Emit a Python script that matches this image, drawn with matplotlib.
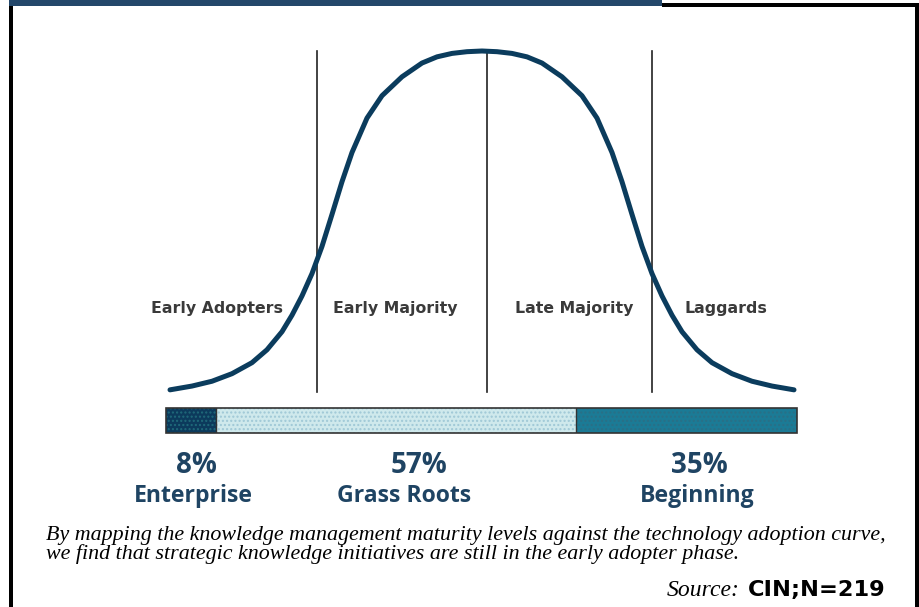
import numpy as np
import matplotlib
matplotlib.use("Agg")
import matplotlib.pyplot as plt
from matplotlib.patches import Rectangle

# ---- data ----
phases = ["Early Adopters", "Early Majority", "Late Majority", "Laggards"]
phase_bounds = [-1.32, 0.04, 1.36]         # boundaries (sd units)
# bell curve: position (sd units) and relative height
curve_x = [-2.496, -2.32, -2.16, -2.0, -1.84, -1.72, -1.6, -1.52, -1.44, -1.36, -1.28,
           -1.2, -1.12, -1.04, -0.92, -0.8, -0.64, -0.48, -0.36, -0.24, -0.12, 0.0,
           0.12, 0.24, 0.36, 0.48, 0.64, 0.8, 0.92, 1.04, 1.12, 1.2,
           1.28, 1.36, 1.44, 1.52, 1.6, 1.72, 1.84, 2.0, 2.16, 2.32, 2.496]
curve_y = [0.015, 0.026, 0.040, 0.062, 0.094, 0.1315, 0.184, 0.232, 0.288, 0.353, 0.432,
           0.525, 0.620, 0.705, 0.805, 0.870, 0.925, 0.965, 0.983, 0.993, 0.998, 1.0,
           0.998, 0.993, 0.983, 0.965, 0.925, 0.870, 0.805, 0.705, 0.620, 0.525,
           0.432, 0.353, 0.288, 0.232, 0.184, 0.1315, 0.094, 0.062, 0.040, 0.026, 0.015]
segments = ["Enterprise", "Grass Roots", "Beginning"]
shares = [8, 57, 35]
share_labels = ["8%", "57%", "35%"]
caption = ("By mapping the knowledge management maturity levels against the technology adoption curve,\n"
           "we find that strategic knowledge initiatives are still in the early adopter phase.")
source_label = "Source:"
source_value = "CIN;N=219"

W, H = 920, 607
fig = plt.figure(figsize=(W / 100, H / 100), dpi=100)
fig.patch.set_facecolor("white")

def fbox(x0, y0, x1, y1):
    """pixel box (top-left origin) -> figure fraction rect"""
    return [x0 / W, 1 - y1 / H, (x1 - x0) / W, (y1 - y0) / H]

# ---- frame ----
fig.add_artist(Rectangle((9 / W, 1 - 6 / H), 653 / W, 6 / H, transform=fig.transFigure,
                         facecolor="#23476a", edgecolor="none"))
fig.add_artist(Rectangle((662 / W, 1 - 7 / H), 257 / W, 4 / H, transform=fig.transFigure,
                         facecolor="black", edgecolor="none"))
fig.add_artist(Rectangle((9 / W, 0), 4 / W, 1 - 6 / H, transform=fig.transFigure,
                         facecolor="black", edgecolor="none"))
fig.add_artist(Rectangle((915 / W, 0), 4 / W, 1 - 3 / H, transform=fig.transFigure,
                         facecolor="black", edgecolor="none"))

# ---- bell curve ----
ax = fig.add_axes(fbox(170, 51, 794, 395))
ax.set_xlim(curve_x[0], curve_x[-1])
ax.set_ylim(0, 1)
ax.axis("off")
ax.plot(curve_x, curve_y, color="#0b3c5d", lw=3.6, solid_capstyle="round",
        solid_joinstyle="round", clip_on=False, zorder=3)
for b in phase_bounds:
    ax.plot([b, b], [0.009, 1.0], color="#222222", lw=1.2, clip_on=False, zorder=2)

label_x = [-2.12, -0.69, 0.736, 1.952]
for name, lx in zip(phases, label_x):
    ax.text(lx, 0.25, name, ha="center", va="center", fontsize=11.3, fontweight="bold",
            family="DejaVu Sans", color="#3a3a3a")

# ---- stacked bar ----
bx = fig.add_axes(fbox(166, 408, 797, 433))
bx.set_xlim(0, sum(shares))
bx.set_ylim(0, 1)
bx.axis("off")
colors = ["#0c3a5c", "#cfe9ec", "#1b7b96"]
hatch_colors = ["#1f6a7a", "#9fc8d6", "#2a6f86"]
left = 0
centers = []
for s, c, hc in zip(shares, colors, hatch_colors):
    bx.barh(0.5, s, left=left, height=1.0, color=c, edgecolor=hc, hatch="....", lw=0)
    centers.append(left + s / 2)
    left += s
bx.add_patch(Rectangle((0, 0), sum(shares), 1, facecolor="none", edgecolor="#333333", lw=1.2,
                       clip_on=False))
for b in np.cumsum(shares)[:-1]:
    bx.plot([b, b], [0, 1], color="#333333", lw=1.0)

pct_offsets = [0.8, 3.6, 2.1]
name_offsets = [0.3, 1.3, 1.7]
for c, po, no, pl, seg in zip(centers, pct_offsets, name_offsets, share_labels, segments):
    bx.text(c + po, -1.3, pl, ha="center", va="center", fontsize=20, fontweight="bold",
            family="Open Sans", color="#1f4463")
    bx.text(c + no, -2.5, seg, ha="center", va="center", fontsize=16.6, fontweight="bold",
            family="Open Sans", color="#1f4463")

# ---- caption ----
fig.text(46 / W, 1 - 545 / H, caption, ha="left", va="center", fontsize=15.8, style="italic",
         family="Liberation Serif", color="black", linespacing=0.9)
fig.text(740 / W, 1 - 590 / H, source_label, ha="right", va="center", fontsize=17, style="italic",
         family="Liberation Serif", color="black")
fig.text(748 / W, 1 - 590 / H, source_value, ha="left", va="center", fontsize=16.2, fontweight="bold",
         family="DejaVu Sans", color="black")

fig.savefig("out.png", dpi=100, facecolor="white")
